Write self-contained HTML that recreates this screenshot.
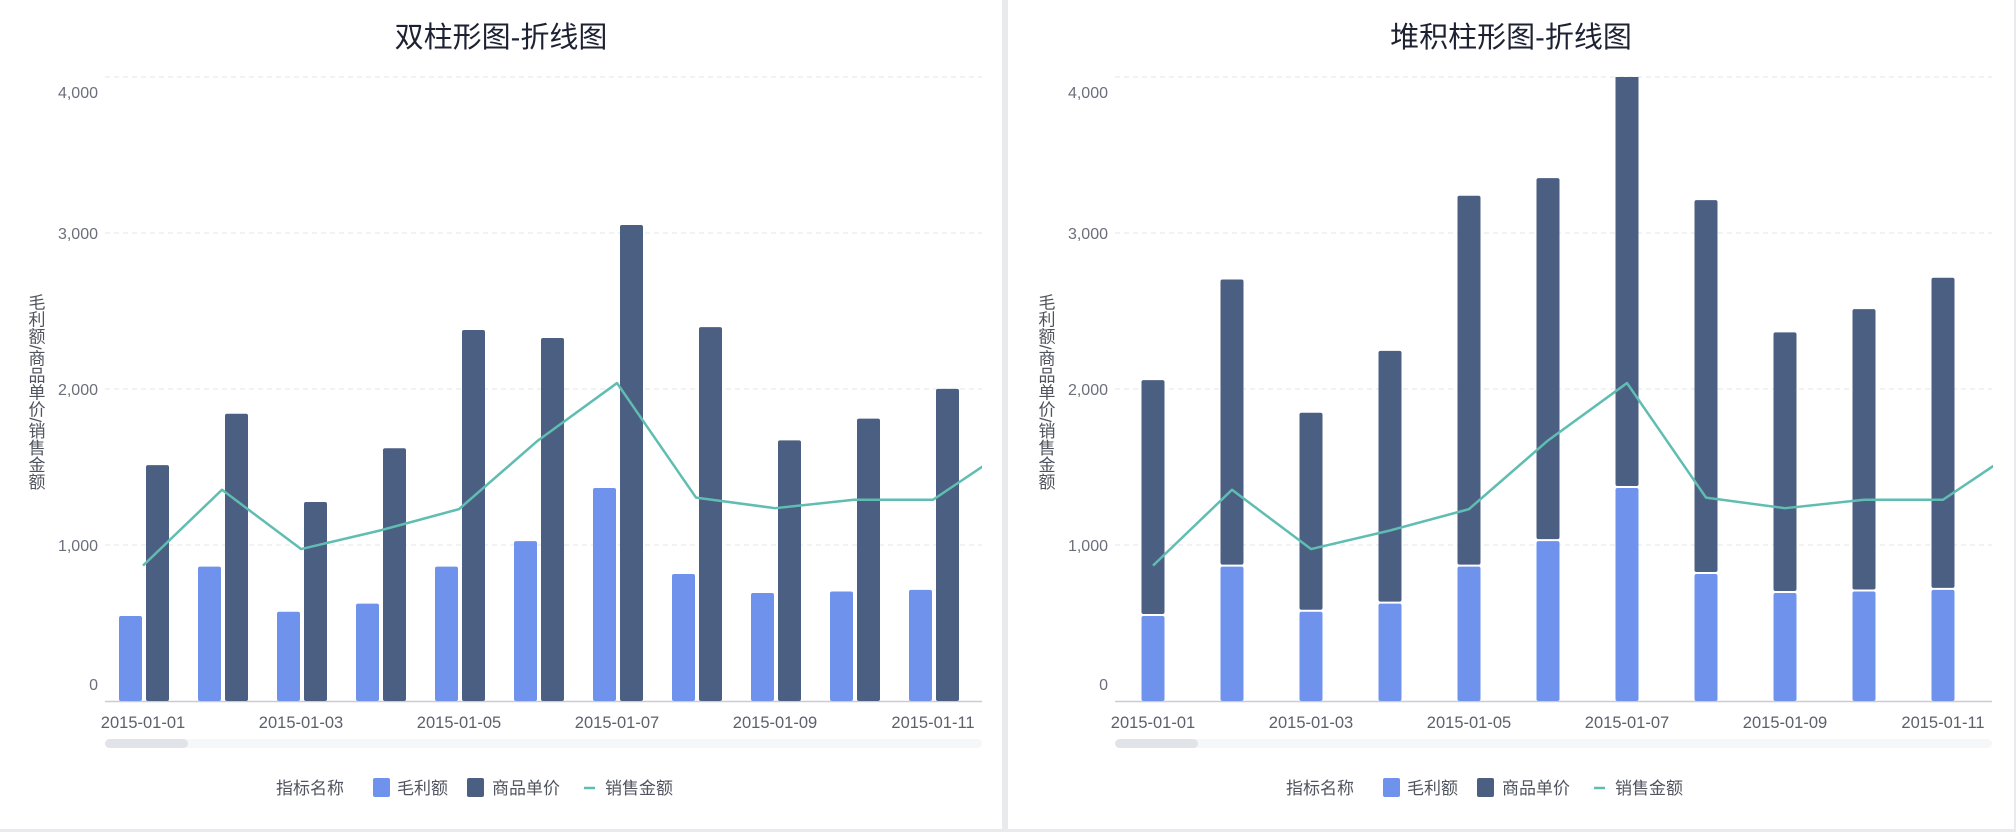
<!DOCTYPE html>
<html><head><meta charset="utf-8">
<style>
html,body{margin:0;padding:0;background:#e9eaee;}
svg{display:block;font-family:"Liberation Sans","Noto Sans CJK SC",sans-serif;}
</style></head>
<body>
<svg id="chart" width="2016" height="832" viewBox="0 0 2016 832" xmlns="http://www.w3.org/2000/svg">
<defs>
<clipPath id="clipL"><rect x="100" y="77" width="882" height="625"/></clipPath>
<clipPath id="clipR"><rect x="1110" y="77" width="883" height="625"/></clipPath>
</defs>
</svg>
<script>
const categories = ["2015-01-01","2015-01-02","2015-01-03","2015-01-04","2015-01-05","2015-01-06","2015-01-07","2015-01-08","2015-01-09","2015-01-10","2015-01-11","2015-01-12"];
const grossProfit = [545, 861, 572, 624, 861, 1025, 1365, 814, 692, 702, 712, 700];
const unitPrice = [1512, 1841, 1276, 1620, 2378, 2327, 3051, 2397, 1671, 1810, 2001, 1900];
const salesAmount = [868, 1354, 974, 1093, 1230, 1670, 2038, 1304, 1236, 1290, 1290, 1630];
const yTicks = [0, 1000, 2000, 3000, 4000];
const yTickLabels = ["0", "1,000", "2,000", "3,000", "4,000"];

const NS = "http://www.w3.org/2000/svg";
const svg = document.getElementById("chart");
function mk(tag, attrs, parent) {
  const e = document.createElementNS(NS, tag);
  for (const k in attrs) e.setAttribute(k, attrs[k]);
  (parent || svg).appendChild(e);
  return e;
}
const C_LIGHT = "#6f93ec", C_DARK = "#4b5f82", C_LINE = "#5fbdb1";

function drawPanel(px, stacked, title, clipId) {
  const g = mk("g", {});
  
  
  const bg = mk("rect", {x: px === 0 ? 0 : px - 2, y: 0, width: px === 0 ? 1002 : 1006, height: 829, fill: "#ffffff"}, g);
  
  
  const plotL = 105 + px, plotR = 982 + px;
  const y = v => 701 - v * 0.156;
  const band = 79, c0 = 143 + px;
  const x = i => c0 + i * band;

  const t = mk("text", {x: 501 + px, y: 47, "text-anchor": "middle", "font-size": 29, fill: "#1d2233"}, g);
  t.textContent = title;
  
  

  yTicks.forEach((v, i) => {
    if (v > 0) {
      const gl = mk("line", {x1: plotL, x2: plotR, y1: y(v), y2: y(v), stroke: "#e2e4e9", "stroke-dasharray": "5,4", "stroke-width": 1}, g);
      
      
    }
    let ly = y(v) + 6;
    if (i === 0) ly = y(v) - 11;
    if (i === yTicks.length - 1) ly = y(v) + 21;
    const tl = mk("text", {x: 98 + px, y: ly, "text-anchor": "end", "font-size": 16, fill: "#6b6f7a"}, g);
    tl.textContent = yTickLabels[i];
    
    
  });
  const ax = mk("line", {x1: plotL, x2: plotR, y1: 701.5, y2: 701.5, stroke: "#c9ccd3", "stroke-width": 1.5}, g);
  
  

  const yt = mk("text", {x: 35 + px, y: 392, "font-size": 17, fill: "#50545e", "text-anchor": "middle", "writing-mode": "tb", "style": "writing-mode:vertical-rl"}, g);
  yt.textContent = "毛利额/商品单价/销售金额";
  
  

  const bars = mk("g", {"clip-path": "url(#" + clipId + ")"}, g);
  
  
  categories.forEach((c, i) => {
    const cx = x(i);
    if (cx - 12 > plotR) return;
    if (!stacked) {
      const b1 = mk("rect", {x: cx - 24, y: y(grossProfit[i]), width: 23, height: y(0) - y(grossProfit[i]), rx: 2, fill: C_LIGHT}, bars);
      
      
      const b2 = mk("rect", {x: cx + 3, y: y(unitPrice[i]), width: 23, height: y(0) - y(unitPrice[i]), rx: 2, fill: C_DARK}, bars);
      
      
    } else {
      const b1 = mk("rect", {x: cx - 11.5, y: y(grossProfit[i]), width: 23, height: y(0) - y(grossProfit[i]), rx: 2, fill: C_LIGHT}, bars);
      
      
      const top = grossProfit[i] + unitPrice[i];
      const b2 = mk("rect", {x: cx - 11.5, y: y(top), width: 23, height: y(grossProfit[i]) - y(top) - 2, rx: 2, fill: C_DARK}, bars);
      
      
    }
  });
  const pts = salesAmount.map((v, i) => x(i) + "," + y(v)).join(" ");
  const ln = mk("polyline", {points: pts, fill: "none", stroke: C_LINE, "stroke-width": 2.5, "stroke-linejoin": "round"}, bars);
  
  

  categories.forEach((c, i) => {
    if (i % 2 !== 0 || x(i) > plotR) return;
    const xl = mk("text", {x: x(i), y: 728, "text-anchor": "middle", "font-size": 16.5, fill: "#5d616b"}, g);
    xl.textContent = c;
    
    
  });

  const tr = mk("rect", {x: plotL, y: 739, width: plotR - plotL, height: 9, rx: 4.5, fill: "#f6f7f9"}, g);
  
  
  const th = mk("rect", {x: plotL, y: 739, width: 83, height: 9, rx: 4.5, fill: "#e2e3e8"}, g);
  
  

  const lg = mk("g", {}, g);
  
  
  const lt = mk("text", {x: 310 + px, y: 794, "text-anchor": "middle", "font-size": 17, fill: "#50545e"}, lg);
  lt.textContent = "指标名称";
  
  
  const s1 = mk("rect", {x: 373 + px, y: 778, width: 17, height: 19, rx: 2, fill: C_LIGHT}, lg);
  
  
  const t1 = mk("text", {x: 397 + px, y: 794, "font-size": 17, fill: "#50545e"}, lg);
  t1.textContent = "毛利额";
  
  
  const s2 = mk("rect", {x: 467 + px, y: 778, width: 17, height: 19, rx: 2, fill: C_DARK}, lg);
  
  
  const t2 = mk("text", {x: 492 + px, y: 794, "font-size": 17, fill: "#50545e"}, lg);
  t2.textContent = "商品单价";
  
  
  const s3 = mk("line", {x1: 584 + px, x2: 595 + px, y1: 788, y2: 788, stroke: C_LINE, "stroke-width": 2.5}, lg);
  
  
  const t3 = mk("text", {x: 605 + px, y: 794, "font-size": 17, fill: "#50545e"}, lg);
  t3.textContent = "销售金额";
  
  
}
drawPanel(0, false, "双柱形图-折线图", "clipL");
drawPanel(1010, true, "堆积柱形图-折线图", "clipR");
</script>
</body></html>
